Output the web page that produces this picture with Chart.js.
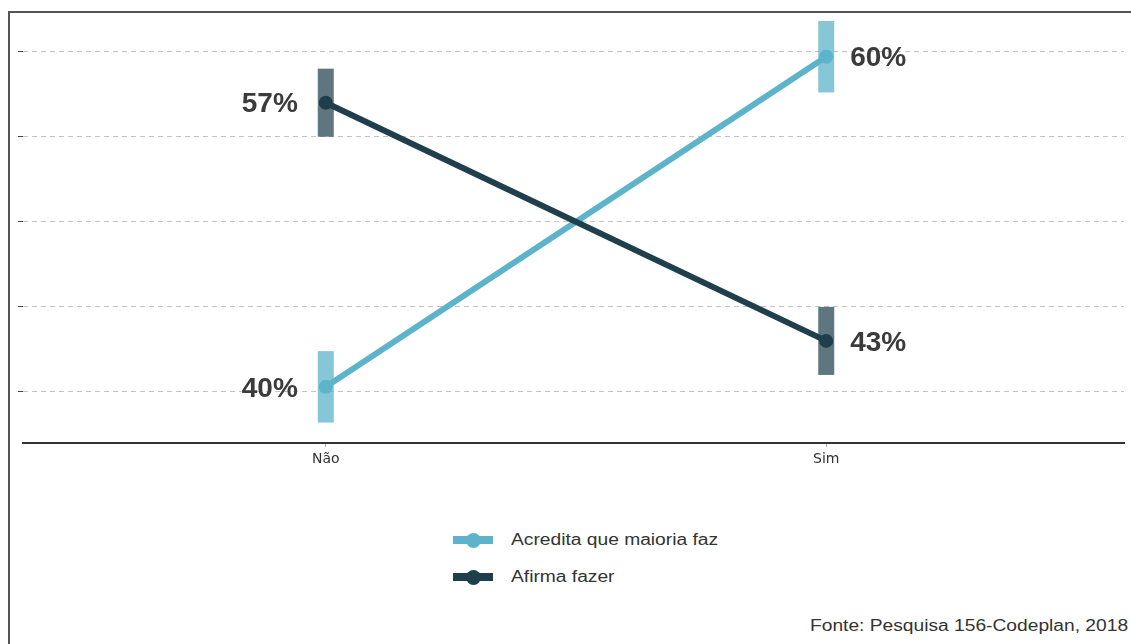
<!DOCTYPE html>
<html lang="pt-BR">
<head>
<meta charset="utf-8">
<script src="https://cdn.jsdelivr.net/npm/chart.js@4.4.1/dist/chart.umd.min.js"></script>
<style>
    html, body { margin: 0; padding: 0; background: #fff; }
    body { width: 1131px; height: 644px; position: relative; overflow: hidden;
           font-family: "Liberation Sans", Arial, sans-serif; color: #333; }
    .frame { position: absolute; left: 8px; top: 11px; right: -4px; bottom: -4px;
             border-left: 2px solid #555; border-top: 2px solid #555; }
    .chart-wrap { position: absolute; left: 0; top: 0; width: 1131px; height: 473px; }
    .legend { position: absolute; left: 453px; top: 527px; }
    .legend-item { display: flex; align-items: center; height: 26px; margin-bottom: 11px; font-size: 16px; }
    .legend-swatch { position: relative; width: 40px; height: 16px; margin-right: 18px; }
    .legend-swatch .ln { position: absolute; left: 0; right: 0; top: 4px; height: 8px; }
    .legend-swatch .dot { position: absolute; left: 13px; top: 1px; width: 15px; height: 15px; border-radius: 50%; }
    .legend-text { display: inline-block; transform: scaleX(1.2); transform-origin: left center; }
    .source { position: absolute; right: 3px; top: 617px; font-size: 16px; color: #333;
              transform: scaleX(1.2); transform-origin: right center; }
</style>
</head>
<body>
<div class="frame"></div>
<div class="chart-wrap"><canvas id="chart"></canvas></div>
<div class="legend" id="legend"></div>
<div class="source">Fonte: Pesquisa 156-Codeplan, 2018</div>

<script>
// categorias e séries
const categories = ['Não', 'Sim'];
const seriesNames = ['Acredita que maioria faz', 'Afirma fazer'];

const acreditaValues = [40.3, 59.7];
const acreditaLow    = [38.2, 57.6];
const acreditaHigh   = [42.4, 61.8];

const afirmaValues = [57.0, 43.0];
const afirmaLow    = [55.0, 41.0];
const afirmaHigh   = [59.0, 45.0];

const yTicks = [40, 45, 50, 55, 60];

const LIGHT = '#5db4ca';
const DARK  = '#1f3f4c';

// barras de intervalo atrás das linhas
const intervalPlugin = {
    id: 'intervals',
    beforeDatasetsDraw(chart) {
        const ctx = chart.ctx;
        const y = chart.scales.y;
        chart.data.datasets.forEach((ds, i) => {
            const meta = chart.getDatasetMeta(i);
            meta.data.forEach((pt, j) => {
                const top = y.getPixelForValue(ds.high[j]);
                const bot = y.getPixelForValue(ds.low[j]);
                ctx.save();
                ctx.fillStyle = ds.intervalColor;
                ctx.fillRect(pt.x - 8, top, 16, bot - top);
                ctx.restore();
            });
        });
    }
};

// rótulos de valor ao lado dos pontos
const valueLabelPlugin = {
    id: 'valueLabels',
    afterDatasetsDraw(chart) {
        const ctx = chart.ctx;
        ctx.save();
        ctx.font = 'bold 28px "Liberation Sans", Arial, sans-serif';
        ctx.fillStyle = '#3b3b3b';
        ctx.textBaseline = 'middle';
        chart.data.datasets.forEach((ds, i) => {
            const meta = chart.getDatasetMeta(i);
            meta.data.forEach((pt, j) => {
                const txt = Math.round(ds.data[j].y) + '%';
                if (j === 0) {
                    ctx.textAlign = 'right';
                    ctx.fillText(txt, pt.x - 28, pt.y + 2);
                } else {
                    ctx.textAlign = 'left';
                    ctx.fillText(txt, pt.x + 24, pt.y + 2);
                }
            });
        });
        ctx.restore();
    }
};

const toPoints = vals => vals.map((v, i) => ({ x: i, y: v }));

const chart = new Chart(document.getElementById('chart'), {
    type: 'line',
    data: {
        datasets: [
            {
                label: seriesNames[0],
                data: toPoints(acreditaValues),
                low: acreditaLow,
                high: acreditaHigh,
                borderColor: LIGHT,
                backgroundColor: LIGHT,
                intervalColor: 'rgba(93, 180, 202, 0.75)',
                borderWidth: 6,
                pointRadius: 7,
                pointBorderWidth: 0,
                order: 2
            },
            {
                label: seriesNames[1],
                data: toPoints(afirmaValues),
                low: afirmaLow,
                high: afirmaHigh,
                borderColor: DARK,
                backgroundColor: DARK,
                intervalColor: 'rgba(50, 80, 94, 0.78)',
                borderWidth: 6,
                pointRadius: 7,
                pointBorderWidth: 0,
                order: 1
            }
        ]
    },
    options: {
        responsive: true,
        maintainAspectRatio: false,
        animation: false,
        layout: { padding: { left: 18, top: 12, right: 0, bottom: 0 } },
        plugins: {
            legend: { display: false },
            tooltip: { enabled: false }
        },
        scales: {
            x: {
                type: 'linear',
                min: -0.605,
                max: 1.595,
                afterBuildTicks: s => { s.ticks = [{ value: 0 }, { value: 1 }]; },
                afterFit: s => { s.height = 30; },
                ticks: {
                    callback: v => categories[v],
                    color: '#333',
                    font: { family: '"DejaVu Sans", sans-serif', size: 14 },
                    padding: 4
                },
                grid: { drawOnChartArea: false, tickLength: 4, color: '#aaa' },
                border: { display: true, color: '#333', width: 2 }
            },
            y: {
                min: 37,
                max: 62.33,
                afterBuildTicks: s => { s.ticks = yTicks.map(v => ({ value: v })); },
                afterFit: s => { s.width = 5; },
                ticks: { display: false },
                grid: {
                    color: '#c4c4c4',
                    lineWidth: 1,
                    tickLength: 5,
                    tickColor: '#444',
                    tickBorderDash: []
                },
                border: { display: false, dash: [5, 4] }
            }
        }
    },
    plugins: [intervalPlugin, valueLabelPlugin]
});

// legenda em lista vertical
const legendEl = document.getElementById('legend');
chart.data.datasets.forEach(ds => {
    const item = document.createElement('div');
    item.className = 'legend-item';
    item.innerHTML = '<span class="legend-swatch">' +
        '<span class="ln" style="background:' + ds.borderColor + '"></span>' +
        '<span class="dot" style="background:' + ds.borderColor + '"></span></span>' +
        '<span class="legend-text">' + ds.label + '</span>';
    legendEl.appendChild(item);
});
</script>
</body>
</html>
